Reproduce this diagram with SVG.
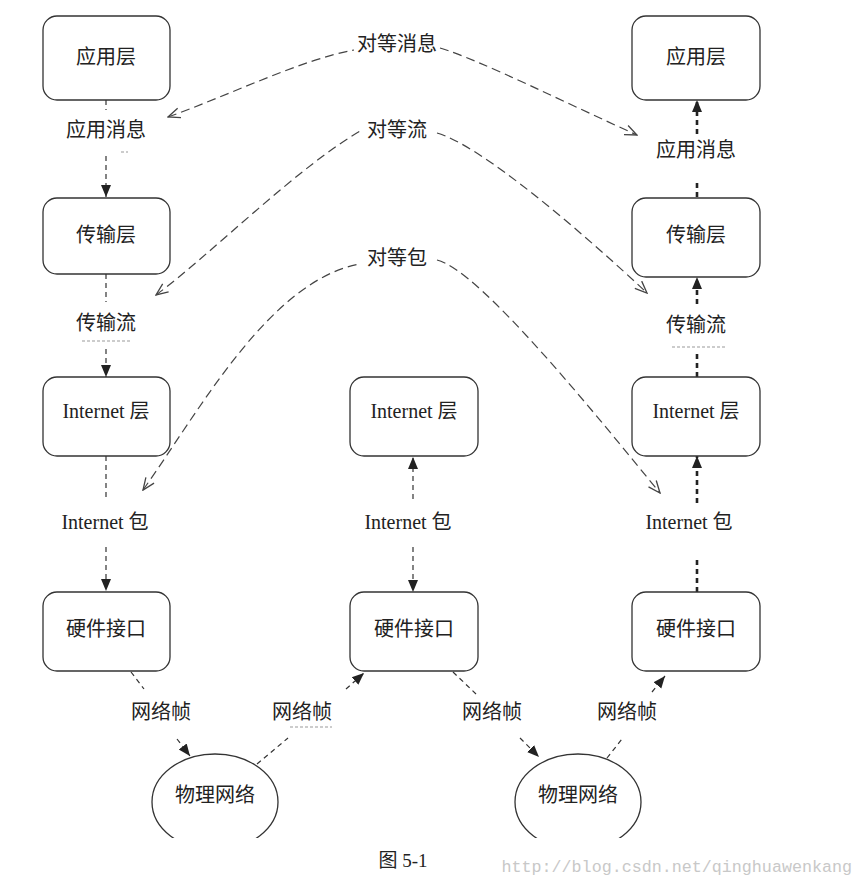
<svg xmlns="http://www.w3.org/2000/svg" width="863" height="888" viewBox="0 0 863 888">
<style>
.box{fill:#fff;stroke:#333;stroke-width:1.3}
.ell{fill:#fff;stroke:#333;stroke-width:1.3}
.t{font-family:"Liberation Serif","Noto Sans CJK SC",serif;font-size:20px;fill:#222;text-anchor:middle;dominant-baseline:central}
.v{fill:none;stroke:#333;stroke-width:1.2;stroke-dasharray:5 4}
.vb{fill:none;stroke:#222;stroke-width:2.6;stroke-dasharray:5 4}
.peer{fill:none;stroke:#444;stroke-width:1.2;stroke-dasharray:9 5}
.rem{fill:none;stroke:#999;stroke-width:1;stroke-dasharray:3 2}
</style>
<defs>
<marker id="fa" viewBox="0 0 12 12" refX="12" refY="6" markerWidth="12" markerHeight="12" markerUnits="userSpaceOnUse" orient="auto">
<path d="M0,1 L12,6 L0,11 Z" fill="#222"/>
</marker>
<marker id="oa" viewBox="0 0 14 12" refX="13" refY="6" markerWidth="14" markerHeight="12" markerUnits="userSpaceOnUse" orient="auto-start-reverse">
<path d="M1,1 L13,6 L1,11" fill="none" stroke="#444" stroke-width="1.3"/>
</marker>
<clipPath id="clipBottom"><rect x="0" y="0" width="863" height="838"/></clipPath>
</defs>
<rect width="863" height="888" fill="#fff"/>

<g id="connectors">
<!-- left column (downward) -->
<path class="v" d="M106,100 V110"/>
<path class="v" d="M106,156 V197" marker-end="url(#fa)"/>
<path class="v" d="M106,274 V302"/>
<path class="v" d="M106,349 V377" marker-end="url(#fa)"/>
<path class="v" d="M106,456 V499"/>
<path class="v" d="M106,547 V591" marker-end="url(#fa)"/>
<!-- middle column -->
<path class="v" d="M413,499 V457" marker-end="url(#fa)"/>
<path class="v" d="M413,547 V592" marker-end="url(#fa)"/>
<!-- right column (upward, bold) -->
<path class="vb" d="M697,134 V100" marker-end="url(#fa)"/>
<path class="vb" d="M697,197 V182"/>
<path class="vb" d="M697,304 V277" marker-end="url(#fa)"/>
<path class="vb" d="M697,377 V352"/>
<path class="vb" d="M697,503 V456" marker-end="url(#fa)"/>
<path class="vb" d="M697,592 V557"/>
<!-- frame links -->
<path class="v" d="M131,672 L144,689"/>
<path class="v" d="M177,739 L190,756" marker-end="url(#fa)"/>
<path class="v" d="M257,764 L288,738"/>
<path class="v" d="M346,689 L364,673" marker-end="url(#fa)"/>
<path class="v" d="M453,672 L476,694"/>
<path class="v" d="M520,738 L539,757" marker-end="url(#fa)"/>
<path class="v" d="M607,758 L622,739"/>
<path class="v" d="M652,692 L665,676" marker-end="url(#fa)"/>
<!-- peer arcs -->
<path class="peer" d="M168,117 C230,95 300,60 354,50" marker-start="url(#oa)"/>
<path class="peer" d="M440,48 C480,60 570,105 637,135" marker-end="url(#oa)"/>
<path class="peer" d="M156,295 C210,255 300,165 362,130" marker-start="url(#oa)"/>
<path class="peer" d="M437,133 C480,145 580,230 647,293" marker-end="url(#oa)"/>
<path class="peer" d="M143,490 C200,410 270,280 360,264" marker-start="url(#oa)"/>
<path class="peer" d="M437,260 C480,270 600,420 660,493" marker-end="url(#oa)"/>
<!-- leftover fragments -->
<path class="rem" d="M121,152 H128"/>
<path class="rem" d="M82,341 H130"/>
<path class="rem" d="M672,347 H725"/>
<path class="rem" d="M290,727 H332"/>
</g>

<g id="labels">
<text class="t" x="397" y="44">对等消息</text>
<text class="t" x="397" y="130">对等流</text>
<text class="t" x="397" y="258">对等包</text>
<text class="t" x="106" y="130">应用消息</text>
<text class="t" x="106" y="323">传输流</text>
<text class="t" x="105" y="522">Internet 包</text>
<text class="t" x="408" y="522">Internet 包</text>
<text class="t" x="696" y="150">应用消息</text>
<text class="t" x="696" y="325">传输流</text>
<text class="t" x="689" y="522">Internet 包</text>
<text class="t" x="161" y="712">网络帧</text>
<text class="t" x="302" y="712">网络帧</text>
<text class="t" x="492" y="712">网络帧</text>
<text class="t" x="627" y="712">网络帧</text>
</g>

<g id="app-left"><rect class="box" x="43" y="16" width="127" height="84" rx="14"/><text class="t" x="106" y="57">应用层</text></g>
<g id="app-right"><rect class="box" x="632" y="16" width="128" height="84" rx="14"/><text class="t" x="696" y="57">应用层</text></g>
<g id="trans-left"><rect class="box" x="43" y="198" width="127" height="76" rx="14"/><text class="t" x="106" y="235">传输层</text></g>
<g id="trans-right"><rect class="box" x="632" y="198" width="128" height="79" rx="14"/><text class="t" x="696" y="235">传输层</text></g>
<g id="inet-left"><rect class="box" x="43" y="377" width="127" height="79" rx="14"/><text class="t" x="106" y="411">Internet 层</text></g>
<g id="inet-mid"><rect class="box" x="350" y="377" width="128" height="79" rx="14"/><text class="t" x="414" y="411">Internet 层</text></g>
<g id="inet-right"><rect class="box" x="632" y="377" width="128" height="79" rx="14"/><text class="t" x="696" y="411">Internet 层</text></g>
<g id="hw-left"><rect class="box" x="43" y="592" width="127" height="79" rx="14"/><text class="t" x="106" y="629">硬件接口</text></g>
<g id="hw-mid"><rect class="box" x="350" y="592" width="128" height="79" rx="14"/><text class="t" x="414" y="629">硬件接口</text></g>
<g id="hw-right"><rect class="box" x="632" y="592" width="128" height="79" rx="14"/><text class="t" x="696" y="629">硬件接口</text></g>
<g id="net-left" clip-path="url(#clipBottom)"><ellipse class="ell" cx="215" cy="802" rx="63" ry="48"/><text class="t" x="215" y="795">物理网络</text></g>
<g id="net-right" clip-path="url(#clipBottom)"><ellipse class="ell" cx="578" cy="802" rx="63" ry="48"/><text class="t" x="578" y="795">物理网络</text></g>

<text class="t" x="403" y="860" style="font-size:19px">图 5-1</text>
<text x="852" y="867" style="font-family:'Liberation Mono',monospace;font-size:16.7px;fill:#c8c8c8;text-anchor:end;dominant-baseline:central">http://blog.csdn.net/qinghuawenkang</text>
</svg>
